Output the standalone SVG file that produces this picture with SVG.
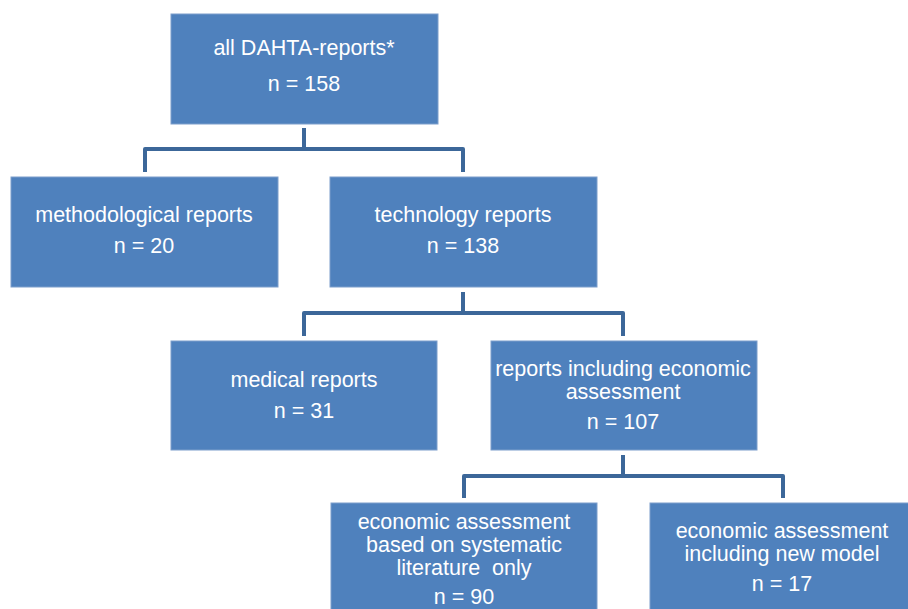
<svg xmlns="http://www.w3.org/2000/svg" width="908" height="609" viewBox="0 0 908 609">
<style>
.box{fill:#4F81BD;stroke:#7D9ECB;stroke-width:1}
.t{font-family:"Liberation Sans",Arial,sans-serif;font-size:21.5px;fill:#FFFFFF;text-anchor:middle}
.c{fill:none;stroke:#3C6799;stroke-width:4;stroke-linejoin:round;stroke-linecap:butt}
</style>
<rect width="908" height="609" fill="#FFFFFF"/>
<g id="connectors">
<path class="c" d="M304,128 V149 M145,172 V149 H463 V172"/>
<path class="c" d="M463,292 V313 M304,336 V313 H623 V336"/>
<path class="c" d="M623,455 V476 M464,498 V476 H783 V498"/>
</g>
<g id="n-all">
<rect class="box" x="171" y="14" width="267" height="110"/>
<text class="t" x="304" y="55">all DAHTA-reports*</text>
<text class="t" x="304" y="91">n = 158</text>
</g>
<g id="n-method">
<rect class="box" x="11" y="177" width="267" height="110"/>
<text class="t" x="144" y="222">methodological reports</text>
<text class="t" x="144" y="253">n = 20</text>
</g>
<g id="n-tech">
<rect class="box" x="330" y="177" width="267" height="110"/>
<text class="t" x="463" y="222">technology reports</text>
<text class="t" x="463" y="253">n = 138</text>
</g>
<g id="n-medical">
<rect class="box" x="171" y="341" width="266" height="109"/>
<text class="t" x="304" y="387">medical reports</text>
<text class="t" x="304" y="418">n = 31</text>
</g>
<g id="n-econ">
<rect class="box" x="491" y="341" width="266" height="109"/>
<text class="t" x="623" y="376">reports including economic</text>
<text class="t" x="623" y="399">assessment</text>
<text class="t" x="623" y="429">n = 107</text>
</g>
<g id="n-lit">
<rect class="box" x="331" y="503" width="266" height="110"/>
<text class="t" x="464" y="529">economic assessment</text>
<text class="t" x="464" y="552">based on systematic</text>
<text class="t" x="464" y="575" xml:space="preserve">literature  only</text>
<text class="t" x="464" y="604">n = 90</text>
</g>
<g id="n-model">
<rect class="box" x="650" y="503" width="266" height="110"/>
<text class="t" x="782" y="538">economic assessment</text>
<text class="t" x="782" y="561">including new model</text>
<text class="t" x="782" y="591">n = 17</text>
</g>
</svg>
